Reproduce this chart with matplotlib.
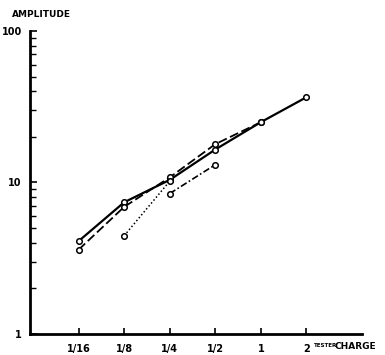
import matplotlib
matplotlib.use("Agg")
import matplotlib.pyplot as plt
from matplotlib.ticker import FixedLocator, NullFormatter, LogLocator

# charge (fraction of tester charge) vs pulse amplitude
xticks = [1/16, 1/8, 1/4, 1/2, 1, 2]
xticklabels = ['1/16', '1/8', '1/4', '1/2', '1', '2']

charge_a = [1/16, 1/8, 1/4, 1/2, 1, 2]
amp_a = [4.1, 7.4, 10.4, 16.5, 25.0, 36.5]

charge_b = [1/16, 1/8, 1/4, 1/2, 1]
amp_b = [3.6, 6.9, 10.8, 17.9, 25.0]

charge_c = [1/8, 1/4]
amp_c = [4.45, 10.2]

charge_d = [1/4, 1/2]
amp_d = [8.45, 13.1]

fig = plt.figure(figsize=(3.85, 3.55), dpi=100)
ax = fig.add_axes([0.078, 0.059, 0.862, 0.854])

mk = dict(marker='o', markersize=4, markerfacecolor='white', markeredgecolor='black',
          markeredgewidth=1.1, color='black')
ax.plot(charge_a, amp_a, linestyle='-', linewidth=1.6, **mk)
ax.plot(charge_b, amp_b, linestyle=(0, (5, 2)), linewidth=1.3, **mk)
ax.plot(charge_c, amp_c, linestyle=(0, (1, 1.5)), linewidth=1.1, **mk)
ax.plot(charge_d, amp_d, linestyle=(0, (4, 1.5, 1, 1.5)), linewidth=1.2, **mk)

ax.set_xscale('log', base=2)
ax.set_yscale('log')
ax.set_xlim(2 ** -5.065, 2 ** 2.217)
ax.set_ylim(1, 100)

for side in ['top', 'right']:
    ax.spines[side].set_visible(False)
ax.spines['left'].set_linewidth(2.0)
ax.spines['bottom'].set_linewidth(2.0)

ax.xaxis.set_major_locator(FixedLocator(xticks))
ax.xaxis.set_minor_locator(FixedLocator([]))
ax.set_xticks(xticks)
ax.set_xticklabels(xticklabels, fontsize=7, fontweight='bold')
ax.tick_params(axis='x', direction='in', length=4, width=1.2, pad=7)

ax.yaxis.set_major_locator(FixedLocator([1, 10, 100]))
ax.set_yticklabels(['1', '10', '100'], fontsize=7, fontweight='bold')
ax.yaxis.set_minor_locator(LogLocator(base=10, subs=range(2, 10)))
ax.yaxis.set_minor_formatter(NullFormatter())
ax.tick_params(axis='y', which='major', direction='in', length=5, width=1.2, pad=6)
ax.tick_params(axis='y', which='minor', direction='in', length=4, width=1.0)

fig.text(0.031, 0.96, 'AMPLITUDE', fontsize=6.5, fontweight='bold', va='center')
fig.text(0.815, 0.028, 'TESTER', fontsize=4, fontweight='bold', va='center')
fig.text(0.87, 0.024, 'CHARGE', fontsize=6.5, fontweight='bold', va='center')

fig.savefig('out.png', dpi=100)
